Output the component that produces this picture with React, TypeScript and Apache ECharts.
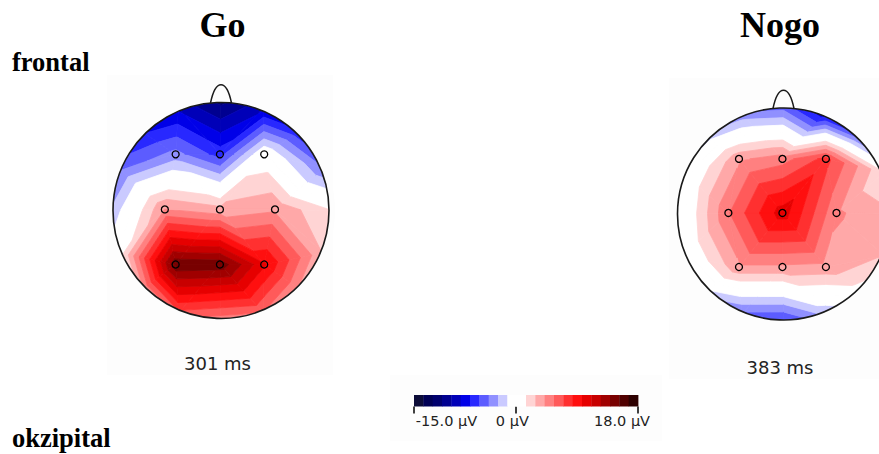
import React, { useEffect, useRef } from "react";
import * as echarts from "echarts";

// ---------------- data ----------------
const CONDITIONS = ["Go", "Nogo"];
const LATENCIES = ["301 ms", "383 ms"];
const REGION_LABELS = ["frontal", "okzipital"];

const ELECTRODES = ["F3", "Fz", "F4", "C3", "Cz", "C4", "P3", "Pz", "P4"];
// electrode positions on the head (radius 1, y pointing to the back of the head)
const ELECTRODE_X = [-0.42, -0.01, 0.4, -0.52, -0.01, 0.5, -0.42, -0.01, 0.4];
const ELECTRODE_Y = [-0.52, -0.52, -0.52, -0.01, -0.01, -0.01, 0.5, 0.5, 0.5];

// amplitudes (µV) at the electrodes
const GO_ELECTRODE_UV = [-3.5, -6.0, 0.3, 4.3, 3.3, 4.0, 15.0, 14.8, 10.0];
const NOGO_ELECTRODE_UV = [4.0, 5.0, 7.5, 5.5, 10.5, 4.5, 4.0, 4.0, 3.8];

// amplitudes (µV) on the rim of the head, clockwise from the nose
const RIM_ANGLES = [0, 22.5, 45, 67.5, 90, 112.5, 135, 157.5, 180, 202.5, 225, 247.5, 270, 292.5, 315, 337.5];
const GO_RIM_UV = [-11.5, -8.5, -6.5, -4.0, 1.5, 2.8, 4.0, 5.5, 4.5, 6.5, 4.0, 0.3, -2.6, -4.5, -7.0, -8.5];
const NOGO_RIM_UV = [-5.0, -8.0, -5.0, 1.5, 3.0, 2.8, 0.8, -2.5, -6.0, -4.5, -1.5, -0.6, -1.3, -0.8, -2.0, -3.8];

// colour scale
const SCALE_MIN = -15;
const SCALE_MAX = 18;
const SCALE_COLORS = [
  "#0c0c38", "#000055", "#00006e", "#000090", "#0000b8", "#0000e8", "#2828ff", "#5c5cff",
  "#9090ff", "#cacaff", "#ffffff", "#ffffff", "#ffd4d4", "#ffa8a8", "#ff8080", "#ff5a5a",
  "#ff3030", "#ff0f0f", "#e60000", "#c80000", "#a00000", "#780000", "#500000", "#2d0000",
];
const SCALE_TICKS = [-15, 0, 18];
const SCALE_TICK_LABELS = ["-15.0 µV", "0 µV", "18.0 µV"];

// ---------------- mesh topology ----------------
const RING = [1, 2, 5, 8, 7, 6, 3, 0]; // outer electrodes clockwise from Fz
const RIM_OWNER = [1, 2, 2, 5, 5, 8, 8, 7, 7, 6, 6, 3, 3, 0, 0, 1];
const RIM_R = 1.03;
const NODE_X = [...ELECTRODE_X, ...RIM_ANGLES.map((a) => RIM_R * Math.sin((a * Math.PI) / 180))];
const NODE_Y = [...ELECTRODE_Y, ...RIM_ANGLES.map((a) => -RIM_R * Math.cos((a * Math.PI) / 180))];
const NE = ELECTRODES.length;
const NR = RIM_ANGLES.length;
const TRIANGLES: number[][] = [];
for (let i = 0; i < RING.length; i++) TRIANGLES.push([4, RING[i], RING[(i + 1) % RING.length]]);
for (let k = 0; k < NR; k++) TRIANGLES.push([RIM_OWNER[k], NE + k, NE + ((k + 1) % NR)]);
for (let k = 0; k < NR; k++) {
  const prev = RIM_OWNER[(k + NR - 1) % NR];
  if (prev !== RIM_OWNER[k]) TRIANGLES.push([prev, RIM_OWNER[k], NE + k]);
}

const STEP = (SCALE_MAX - SCALE_MIN) / SCALE_COLORS.length;

type P = [number, number, number];
function clipHalf(poly: P[], thr: number, keepAbove: boolean): P[] {
  const out: P[] = [];
  const n = poly.length;
  for (let i = 0; i < n; i++) {
    const a = poly[i];
    const b = poly[(i + 1) % n];
    const ina = keepAbove ? a[2] >= thr : a[2] <= thr;
    const inb = keepAbove ? b[2] >= thr : b[2] <= thr;
    if (ina) out.push(a);
    if (ina !== inb) {
      const t = (thr - a[2]) / (b[2] - a[2]);
      out.push([a[0] + t * (b[0] - a[0]), a[1] + t * (b[1] - a[1]), thr]);
    }
  }
  return out;
}

function headRenderer(values: number[]) {
  return (params: any, api: any) => {
    const tri = TRIANGLES[params.dataIndex];
    const poly: P[] = tri.map((n) => {
      const p = api.coord([NODE_X[n], NODE_Y[n]]);
      return [p[0], p[1], values[n]] as P;
    });
    const children: any[] = [];
    const last = SCALE_COLORS.length - 1;
    for (let b = 0; b <= last; b++) {
      const lo = b === 0 ? -Infinity : SCALE_MIN + b * STEP;
      const hi = b === last ? Infinity : SCALE_MIN + (b + 1) * STEP;
      let p = clipHalf(poly, lo, true);
      if (p.length < 3) continue;
      p = clipHalf(p, hi, false);
      if (p.length < 3) continue;
      children.push({
        type: "polygon",
        shape: { points: p.map((q) => [q[0], q[1]]) },
        style: { fill: SCALE_COLORS[b], stroke: SCALE_COLORS[b], lineWidth: 0.8 },
      });
    }
    return { type: "group", children };
  };
}

// ---------------- layout ----------------
const HEADS = [
  { cx: 221, cy: 210.5, r: 108, title: [222.5, 25], lat: [217.5, 363.5] },
  { cx: 783.5, cy: 214, r: 106, title: [780, 25], lat: [780, 367] },
];
const PANEL_BG = "#fdfdfd";

export default function App() {
  const ref = useRef<HTMLDivElement>(null);
  useEffect(() => {
    if (!ref.current) return;
    const chart = echarts.init(ref.current, undefined, { renderer: "svg" });
    const values = [
      [...GO_ELECTRODE_UV, ...GO_RIM_UV],
      [...NOGO_ELECTRODE_UV, ...NOGO_RIM_UV],
    ];

    const grids: any[] = HEADS.map((h) => ({
      left: h.cx - h.r,
      top: h.cy - h.r,
      width: 2 * h.r,
      height: 2 * h.r,
      outerBoundsMode: "none",
      containLabel: false,
    }));
    grids.push({ left: 414, top: 395, width: 224, height: 11.5, outerBoundsMode: "none", containLabel: false });

    const xAxes: any[] = HEADS.map((_, i) => ({ gridIndex: i, type: "value", min: -1, max: 1, show: false }));
    const yAxes: any[] = HEADS.map((_, i) => ({ gridIndex: i, type: "value", min: -1, max: 1, inverse: true, show: false }));
    const labelFont = "'DejaVu Sans', Verdana, sans-serif";
    xAxes.push({
      gridIndex: 2,
      type: "value",
      min: SCALE_MIN,
      max: SCALE_MAX,
      axisLine: { show: false },
      splitLine: { show: false },
      axisTick: { show: true, customValues: SCALE_TICKS, length: 7, lineStyle: { color: "#000", width: 1.5 } },
      axisLabel: {
        customValues: SCALE_TICKS,
        margin: 7,
        showMinLabel: true,
        showMaxLabel: true,
        hideOverlap: false,
        formatter: (v: number) => {
          const i = SCALE_TICKS.indexOf(v);
          return `{l${i}|${SCALE_TICK_LABELS[i]}}`;
        },
        rich: {
          l0: { fontFamily: labelFont, fontSize: 14.5, color: "#222", padding: [0, 0, 0, 65] },
          l1: { fontFamily: labelFont, fontSize: 14.5, color: "#222", padding: [0, 7, 0, 0] },
          l2: { fontFamily: labelFont, fontSize: 14.5, color: "#222", padding: [0, 32, 0, 0] },
        },
      },
    });
    yAxes.push({ gridIndex: 2, type: "value", min: 0, max: 1, show: false });

    const series: any[] = [];
    HEADS.forEach((_, i) => {
      series.push({
        type: "custom",
        xAxisIndex: i,
        yAxisIndex: i,
        silent: true,
        z: 2,
        data: TRIANGLES.map(() => [0, 0]),
        renderItem: headRenderer(values[i]),
      });
      series.push({
        type: "scatter",
        name: CONDITIONS[i],
        xAxisIndex: i,
        yAxisIndex: i,
        silent: true,
        z: 70,
        symbol: "circle",
        symbolSize: 7,
        itemStyle: { color: "rgba(0,0,0,0)", borderColor: "#000", borderWidth: 1.3, opacity: 1 },
        data: ELECTRODE_X.map((x, j) => [x, ELECTRODE_Y[j]]),
      });
    });
    series.push({
      type: "custom",
      xAxisIndex: 2,
      yAxisIndex: 2,
      silent: true,
      z: 2,
      data: SCALE_COLORS.map((_, i) => [SCALE_MIN + i * STEP, 0]),
      renderItem: (params: any, api: any) => {
        const i = params.dataIndex;
        const p0 = api.coord([SCALE_MIN + i * STEP, 1]);
        const p1 = api.coord([SCALE_MIN + (i + 1) * STEP, 0]);
        return {
          type: "rect",
          shape: { x: p0[0], y: p0[1], width: p1[0] - p0[0] + 0.4, height: p1[1] - p0[1] },
          style: { fill: SCALE_COLORS[i] },
        };
      },
    });

    const graphics: any[] = [
      { type: "rect", z: 0, shape: { x: 107, y: 75, width: 226, height: 300 }, style: { fill: PANEL_BG } },
      { type: "rect", z: 0, shape: { x: 669, y: 78, width: 210, height: 301 }, style: { fill: PANEL_BG } },
      { type: "rect", z: 0, shape: { x: 390, y: 375, width: 272, height: 66 }, style: { fill: PANEL_BG } },
    ];
    const serif = "'Liberation Serif', 'Times New Roman', serif";
    HEADS.forEach((h, i) => {
      graphics.push({ type: "ring", z: 50, silent: true, shape: { cx: h.cx, cy: h.cy, r: h.r + 6, r0: h.r }, style: { fill: PANEL_BG } });
      graphics.push({ type: "circle", z: 60, silent: true, shape: { cx: h.cx, cy: h.cy, r: h.r }, style: { fill: "none", stroke: "#1a1a1a", lineWidth: 1.6 } });
      const y0 = h.cy - h.r + 0.5;
      graphics.push({
        type: "bezierCurve",
        z: 60,
        silent: true,
        shape: { x1: h.cx - 10.5, y1: y0, cpx1: h.cx - 5.5, cpy1: y0 - 24.4, cpx2: h.cx + 5.5, cpy2: y0 - 24.4, x2: h.cx + 10.5, y2: y0 },
        style: { fill: "none", stroke: "#1a1a1a", lineWidth: 1.5 },
      });
      graphics.push({
        type: "text", z: 60, x: h.title[0], y: h.title[1],
        style: { text: CONDITIONS[i], font: `bold 36px ${serif}`, fill: "#000", align: "center", verticalAlign: "middle" },
      });
      graphics.push({
        type: "text", z: 60, x: h.lat[0], y: h.lat[1],
        style: { text: LATENCIES[i], font: `18px ${labelFont}`, fill: "#222", align: "center", verticalAlign: "middle" },
      });
    });
    graphics.push({ type: "text", z: 60, x: 12, y: 61.5, style: { text: REGION_LABELS[0], font: `bold 26.5px ${serif}`, fill: "#000", align: "left", verticalAlign: "middle" } });
    graphics.push({ type: "text", z: 60, x: 12, y: 437.5, style: { text: REGION_LABELS[1], font: `bold 26.5px ${serif}`, fill: "#000", align: "left", verticalAlign: "middle" } });

    chart.setOption({
      animation: false,
      backgroundColor: "#ffffff",
      grid: grids,
      xAxis: xAxes,
      yAxis: yAxes,
      series,
      graphic: { elements: graphics },
    });
    return () => chart.dispose();
  }, []);
  return <div ref={ref} style={{ position: "absolute", left: 0, top: 0, width: 879, height: 454 }} />;
}
